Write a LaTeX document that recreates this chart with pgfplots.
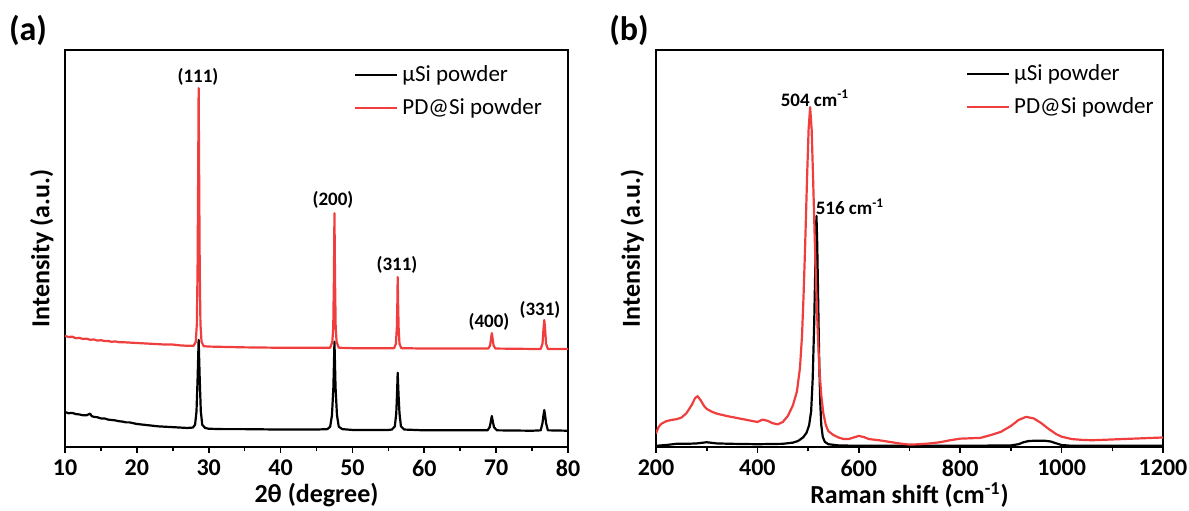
\documentclass[border=0pt]{standalone}
\usepackage{fontspec}
\setmainfont{Carlito}
\usepackage{pgfplots}
\pgfplotsset{compat=1.18}
\definecolor{myred}{RGB}{240,62,62}

\begin{document}
\begin{tikzpicture}
\useasboundingbox (0pt,0pt) rectangle (594.5pt,255pt);
\pgfplotsset{
 myaxis/.style={
  scale only axis, height=198.5pt,
  axis line style={line width=1pt},
  ymin=0, ymax=100, ytick=\empty,
  xtick pos=left, tick align=outside,
  major tick length=3pt, minor tick length=2.2pt,
  every tick/.style={black, line width=0.8pt},
  minor x tick num=1,
  /pgf/number format/assume math mode=true,
  /pgf/number format/1000 sep={},
  ticklabel style={font=\bfseries\fontsize{12}{14}\selectfont},
  label style={font=\bfseries\fontsize{13}{15}\selectfont},
  legend style={draw=none, fill=none, font=\fontsize{11.5}{13}\selectfont, inner sep=0pt, row sep=3pt},
  legend cell align=left,
  legend image code/.code={\draw[##1,line width=1pt] (0pt,0pt) -- (21pt,0pt);},
  every axis plot/.append style={line width=1.1pt, line join=round},
 }
}
% ---------------- (a) XRD ----------------
\begin{axis}[myaxis, at={(32.5pt,31.5pt)}, anchor=south west, width=251.5pt,
  xmin=10, xmax=80, xtick={10,20,...,80},
  xlabel={2θ (degree)}, ylabel={Intensity (a.u.)},
  xlabel style={at={(axis description cs:0.5,-0.121)}, anchor=center},
  ylabel style={at={(axis description cs:-0.046,0.5)}, anchor=center},
  legend style={at={(0.5746,0.972)}, anchor=north west}]
\addplot[black] coordinates {
(10.0,8.8) (10.5,8.5) (11.0,8.6) (11.5,8.3) (12.0,8.2) (12.5,8.0) (13.0,8.0) (13.5,8.4) (13.7,7.8)
(14.0,7.6) (14.5,7.5) (15.0,7.2) (15.5,7.2) (16.0,6.9) (16.5,6.8) (17.0,6.7) (17.5,6.5) (18.0,6.4)
(18.5,6.2) (19.0,6.2) (19.5,6.0) (20.0,5.8) (20.5,5.7) (21.0,5.6) (21.5,5.5) (22.0,5.4) (22.5,5.3)
(23.0,5.2) (24.0,5.1) (25.0,5.0) (26.0,4.9) (27.0,4.8) (27.8,4.9) (28.1,5.6) (28.3,9) (28.45,17)
(28.6,27) (28.75,17) (28.9,9) (29.1,5.6) (29.5,4.8) (30,4.6) (32,4.5) (35,4.5) (40,4.4) (45,4.4)
(46.5,4.5) (46.9,5.1) (47.15,8) (47.35,15) (47.5,26.5) (47.65,15) (47.85,8) (48.1,5.1) (48.6,4.5)
(50,4.3) (55,4.3) (55.5,4.4) (55.9,5.2) (56.1,8.5) (56.2,13) (56.3,18.7) (56.42,13) (56.55,8.5)
(56.75,5.2) (57.2,4.4) (60,4.2) (65,4.2) (68.8,4.2) (69.1,5.0) (69.25,6.3) (69.4,7.8) (69.55,6.3)
(69.7,5.0) (70.1,4.2) (75,4.1) (76.2,4.2) (76.45,6) (76.58,7.9) (76.7,9.3) (76.82,7.9) (76.95,6)
(77.2,4.2) (80,4.1)};
\addlegendentry{μSi powder}
\addplot[myred] coordinates {
(10.0,28.0) (10.5,27.7) (11.0,27.8) (11.5,27.4) (12.0,27.5) (12.5,27.2) (13.0,27.3) (13.5,27.0)
(14.0,27.1) (14.5,26.8) (15.0,26.9) (15.5,26.7) (16.0,26.7) (16.5,26.5) (17.0,26.6) (17.5,26.4)
(18.0,26.4) (19.0,26.3) (20.0,26.2) (21.0,26.1) (22.0,26.0) (23.0,25.9) (24.0,25.8) (25.0,25.8)
(26.0,25.6) (27.0,25.5) (27.9,25.5) (28.2,26.5) (28.35,31) (28.45,45) (28.52,65) (28.6,90.4)
(28.68,65) (28.75,45) (28.85,31) (29.0,26.5) (29.3,25.4) (30,25.3) (35,25.1) (40,25.0) (45,25.0)
(46.9,25.0) (47.2,26.5) (47.33,30) (47.42,42) (47.5,58.9) (47.58,42) (47.67,30) (47.8,26.5)
(48.1,25.0) (50,24.9) (55.8,24.9) (56.05,26) (56.18,30) (56.25,36) (56.3,42.8) (56.36,36)
(56.43,30) (56.55,26) (56.8,24.9) (60,24.8) (65,24.8) (68.9,24.8) (69.15,25.5) (69.3,27.4)
(69.4,28.7) (69.5,27.4) (69.65,25.5) (69.9,24.8) (75,24.7) (76.2,24.7) (76.45,26) (76.6,30)
(76.7,32.0) (76.8,30) (76.95,26) (77.2,24.7) (80,24.7)};
\addlegendentry{PD@Si powder}
\begin{scope}[font=\bfseries\fontsize{9.5}{11}\selectfont]
\node at (axis cs:28.5,93.2) {(111)};
\node at (axis cs:47.3,62.2) {(200)};
\node at (axis cs:56.2,45.8) {(311)};
\node at (axis cs:69.0,31.5) {(400)};
\node at (axis cs:76.1,34.5) {(331)};
\end{scope}
\end{axis}
% ---------------- (b) Raman ----------------
\begin{axis}[myaxis, at={(328pt,31.5pt)}, anchor=south west, width=253.5pt,
  xmin=200, xmax=1200, xtick={200,400,...,1200},
  xlabel={Raman shift (cm\textsuperscript{-1})}, ylabel={Intensity (a.u.)},
  xlabel style={at={(axis description cs:0.5,-0.121)}, anchor=center},
  ylabel style={at={(axis description cs:-0.047,0.5)}, anchor=center},
  legend style={at={(0.611,0.975)}, anchor=north west}]
\addplot[black] coordinates {
(200,0.3) (220,0.5) (240,0.8) (260,0.8) (280,0.9) (300,1.2) (320,0.9) (350,0.8) (400,0.7)
(450,0.8) (470,1.1) (480,1.5) (490,2.4) (497,3.6) (502,5.5) (506,9) (509,17) (512,31) (514,44)
(515.5,54) (516.5,58.2) (518,51) (520,36) (522,21) (524,11) (526,5.5) (529,2.5) (533,1.3)
(540,0.7) (560,0.4) (600,0.3) (700,0.3) (800,0.3) (900,0.4) (915,0.7) (925,1.2) (935,1.5)
(950,1.6) (965,1.6) (978,1.4) (990,0.9) (1000,0.5) (1020,0.3) (1200,0.3)};
\addlegendentry{μSi powder}
\addplot[myred] coordinates {
(200,3.4) (205,5.0) (210,5.8) (220,6.5) (230,6.8) (240,7.0) (250,7.4) (260,8.5) (270,10.5)
(277,12.3) (282,12.8) (288,11.8) (295,10.3) (300,9.6) (310,8.9) (320,8.4) (340,7.8) (360,7.3)
(380,6.8) (400,6.3) (410,6.9) (420,6.6) (430,6.0) (440,5.7) (450,6.3) (460,7.8) (470,10.5)
(478,14) (484,20) (488,28) (491,38) (494,50) (498,68) (501,80) (504,85.6) (507,80) (510,67)
(513,53) (516,40) (519,29) (522,20) (526,13) (530,8.5) (535,5.5) (540,4.0) (550,3.0) (560,2.4)
(570,2.0) (580,2.0) (590,2.4) (600,2.8) (610,2.5) (620,2.0) (640,1.7) (660,1.3) (680,0.9)
(700,0.6) (720,0.7) (740,0.9) (760,1.2) (780,1.7) (800,2.1) (820,2.2) (840,2.3) (860,3.0)
(880,3.8) (900,5.3) (915,6.8) (930,7.6) (945,7.2) (960,6.0) (975,4.5) (990,3.2) (1000,2.6)
(1020,2.0) (1040,1.8) (1060,1.7) (1080,1.8) (1100,1.9) (1120,2.0) (1140,2.1) (1160,2.2)
(1180,2.3) (1200,2.4)};
\addlegendentry{PD@Si powder}
\begin{scope}[font=\bfseries\fontsize{9.5}{11}\selectfont]
\node at (axis cs:513.6,87.9) {504 cm\textsuperscript{-1}};
\node at (axis cs:582.6,60.5) {516 cm\textsuperscript{-1}};
\end{scope}
\end{axis}
\node[font=\bfseries\fontsize{17}{20}\selectfont] at (14pt,240pt) {(a)};
\node[font=\bfseries\fontsize{17}{20}\selectfont] at (314.5pt,240pt) {(b)};
\end{tikzpicture}
\end{document}
